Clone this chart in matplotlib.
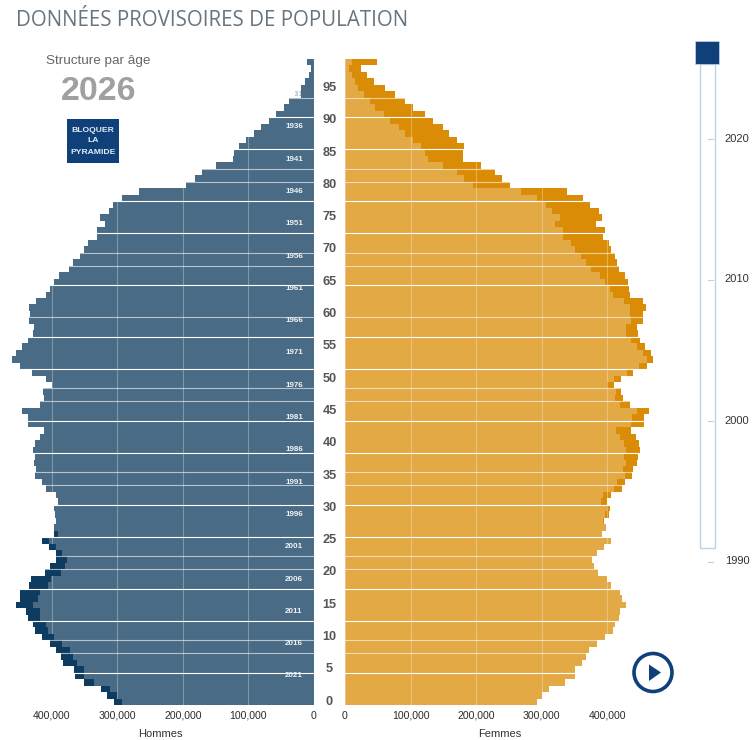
# -*- coding: utf-8 -*-
"""Pyramide des âges 2026 : hommes à gauche, femmes à droite."""
import matplotlib
matplotlib.use("Agg")
import matplotlib.pyplot as plt
from matplotlib.patches import Rectangle, Circle, Polygon

plt.rcParams["font.family"] = ["Liberation Sans", "DejaVu Sans"]

W, H = 752, 740
BLEU, BLEU_FONCE = "#4a6b85", "#0d3c60"
ORANGE, ORANGE_FONCE = "#e3a945", "#da8c06"
MARINE = "#10407a"

# effectifs en milliers, âge 0 -> 99
HOMMES_TOTAL = [305, 315, 324, 351, 364, 366, 382, 385, 394, 403,
                414, 425, 428, 436, 439, 455, 448, 448, 434, 431,
                410, 403, 394, 394, 404, 414, 397, 397, 393, 395,
                397, 390, 393, 409, 414, 425, 424, 427, 425, 428,
                425, 418, 411, 436, 436, 445, 418, 411, 413, 399,
                409, 430, 448, 460, 454, 445, 436, 428, 427, 434,
                433, 434, 424, 408, 403, 396, 388, 373, 367, 357,
                350, 345, 331, 331, 318, 326, 313, 306, 292, 267,
                195, 181, 171, 150, 124, 122, 115, 103, 91, 81,
                68, 58, 46, 38, 20, 20, 13, 8, 5, 10]
HOMMES_BASE = [292, 300, 311, 335, 350, 351, 361, 367, 372, 384,
               396, 406, 409, 417, 418, 428, 421, 418, 405, 401,
               386, 380, 377, 384, 393, 404, 391, 397, 393, 395,
               397, 390, 393, 409, 414, 425, 424, 427, 425, 428,
               425, 418, 411, 436, 436, 445, 418, 411, 413, 399,
               409, 430, 448, 460, 454, 445, 436, 428, 427, 434,
               433, 434, 424, 408, 403, 396, 388, 373, 367, 357,
               350, 345, 331, 331, 318, 326, 313, 306, 292, 267,
               195, 181, 171, 150, 124, 122, 115, 103, 91, 81,
               68, 58, 46, 38, 20, 20, 13, 8, 5, 10]
FEMMES_TOTAL = [293, 300, 311, 336, 350, 351, 362, 368, 372, 384,
                396, 408, 411, 417, 419, 429, 423, 419, 405, 400,
                386, 380, 376.5, 384, 395, 406, 392, 398, 395, 402,
                404, 400, 405, 423, 427, 437, 439, 445, 447, 450,
                448, 444, 436, 456, 456, 464, 434, 424, 421, 410,
                420, 439, 460, 469, 466, 457, 450, 447, 445, 454,
                454, 459, 454, 435, 433, 432, 427, 418, 415, 411,
                405, 402, 393, 396, 382, 392, 387, 374, 363, 338,
                251, 239, 229, 207, 180, 180, 181, 170, 158, 150,
                134, 122, 104, 92, 76, 61, 44, 34, 25, 49]
FEMMES_BASE = [293, 300, 311, 336, 350, 351, 362, 368, 372, 384,
               396, 408, 411, 417, 419, 429, 423, 419, 405, 400,
               386, 380, 376.5, 384, 395, 406, 392, 398, 394, 396,
               399, 390, 394, 410, 414, 427, 424, 429, 426, 429,
               426, 419, 413, 436, 437, 445, 419, 411, 413, 400,
               410, 430, 448, 460, 454, 445, 436, 429, 429, 436,
               435, 435, 426, 408, 404, 396, 389, 375, 368, 359,
               350, 345, 332, 332, 320, 327, 315, 306, 292, 268,
               195, 181, 171, 150, 126, 122, 116, 104, 92, 82,
               69, 59, 46, 38, 29, 20, 15, 10, 6, 10]

AGES = list(range(100))
AGE_TICKS = list(range(0, 100, 5))
POP_TICKS = [0, 100000, 200000, 300000, 400000]
POP_LABELS = ["0", "100,000", "200,000", "300,000", "400,000"]
ANNEE = 2026
COHORTES = list(range(1936, 2022, 5))
SLIDER_ANNEES = [1990, 2000, 2010, 2020]

# limites de lignes où le rendu laisse un filet blanc
FILETS = [5, 13, 18, 26, 31, 39, 44, 52, 57, 65, 73, 78, 86, 91]
FILETS_PALES = [8, 10, 21, 23, 34, 36, 47, 49, 60, 68, 70, 81, 83, 94]

PX_PAR_PERSONNE = 65.6 / 100000
HAUT, BAS = 59, 705


def axes_px(x0, x1, y0, y1):
    return fig.add_axes([x0 / W, 1 - y1 / H, (x1 - x0) / W, (y1 - y0) / H])


def pyramide(ax, total, base, clair, fonce, grille_dessus):
    tot = [v * 1000 for v in total]
    bas = [v * 1000 for v in base]
    centres = [a + 0.5 for a in AGES]
    ax.barh(centres, bas, height=1, color=clair, zorder=2)
    ax.barh(centres, [t - b for t, b in zip(tot, bas)], left=bas, height=1, color=fonce,
            zorder=2 if grille_dessus else 4)
    ax.set_ylim(0, 100)
    ax.set_xticks(POP_TICKS)
    ax.set_xticklabels(POP_LABELS, fontsize=7.6, color="#2b2b2b")
    ax.tick_params(axis="x", length=0, pad=4)
    ax.grid(axis="x", color="white", alpha=0.3, lw=0.8, zorder=3)
    ax.set_axisbelow(False)
    for k in FILETS:
        ax.axhline(k, color="white", lw=0.8, zorder=5)
    for k in FILETS_PALES:
        ax.axhline(k, color="white", lw=0.8, alpha=0.6, zorder=5)
    for s in ax.spines.values():
        s.set_visible(False)
    ax.patch.set_alpha(0)


fig = plt.figure(figsize=(W / 100, H / 100), dpi=100, facecolor="white")

ax_h = axes_px(0, 314, HAUT, BAS)
pyramide(ax_h, HOMMES_TOTAL, HOMMES_BASE, BLEU, BLEU_FONCE, False)
ax_h.set_xlim(314 / PX_PAR_PERSONNE, 0)
ax_h.set_yticks([])
for an in COHORTES:
    ax_h.text(30500, ANNEE - an - 0.5, str(an), ha="center", va="center", fontsize=5.8,
              color="#eef2f5", fontweight="bold", zorder=6)
# 1931 : seule la fin du libellé dépasse sur la barre
bout = ax_h.text(30500, ANNEE - 1931 - 0.5, "1931", ha="center", va="center", fontsize=5.8,
                 color="#a9bac8", fontweight="bold", zorder=6, clip_on=True)
bout.set_clip_path(Rectangle((20000, 93), 9000, 3, transform=ax_h.transData))

ax_f = axes_px(345, 665, HAUT, BAS)
pyramide(ax_f, FEMMES_TOTAL, FEMMES_BASE, ORANGE, ORANGE_FONCE, True)
ax_f.set_xlim(0, 320 / PX_PAR_PERSONNE)
ax_f.set_yticks([a + 0.75 for a in AGE_TICKS])
ax_f.set_yticklabels([str(a) for a in AGE_TICKS], fontsize=9.2, color="#555555", fontweight="bold", ha="center")
ax_f.tick_params(axis="y", length=0, pad=11.2)

# décor en coordonnées pixel
ov = fig.add_axes([0, 0, 1, 1], zorder=10)
ov.set_xlim(0, W)
ov.set_ylim(H, 0)
ov.axis("off")
ov.patch.set_alpha(0)

ov.text(16, 21, "DONNÉES PROVISOIRES DE POPULATION", fontsize=14.8, color="#66757f",
        family="Open Sans", va="center", ha="left")
ov.text(98, 61, "Structure par âge", fontsize=9.7, color="#666666", ha="center", va="center")
ov.text(98.5, 91.5, str(ANNEE), fontsize=24.5, color="#a0a0a0", fontweight="bold", ha="center", va="center")

ov.add_patch(Rectangle((67, 119), 52, 44, fc=MARINE, ec="none"))
for y, txt in zip([130, 141, 152], ["BLOQUER", "LA", "PYRAMIDE"]):
    ov.text(93, y, txt, fontsize=6.1, color="#e4ecf5", fontweight="bold", ha="center", va="center")

ov.text(160, 734, "Hommes", fontsize=8, color="#333333", ha="center", va="center")
ov.text(500, 734, "Femmes", fontsize=8, color="#333333", ha="center", va="center")

# curseur des années
ov.add_patch(Rectangle((699.5, 64), 15, 484, fc="white", ec="#b8d4e8", lw=1))
ov.add_patch(Rectangle((695, 41), 24, 23, fc=MARINE, ec="#c8d8e8", lw=0.5, zorder=3))
for an in SLIDER_ANNEES:
    y = 561.5 - (an - 1990) * 14.1
    ov.plot([708, 713], [y, y], color="#cccccc", lw=0.8, zorder=4)
    ov.text(737, y, str(an), fontsize=8, color="#333333", ha="center", va="center")

# bouton lecture
ov.add_patch(Circle((653, 672.5), 19, fc="white", ec=MARINE, lw=2.6))
ov.add_patch(Polygon([(649, 664.5), (661, 672.5), (649, 681)], closed=True, fc=MARINE, ec="none"))

fig.savefig("out.png", dpi=100)
